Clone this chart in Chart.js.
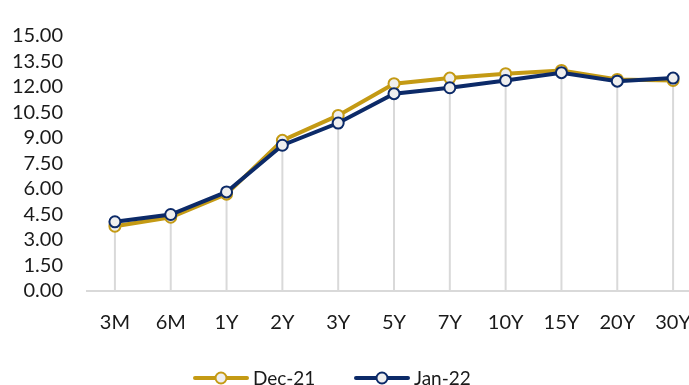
<!DOCTYPE html>
<html>
<head>
<meta charset="utf-8">
<script src="https://cdn.jsdelivr.net/npm/chart.js@4/dist/chart.umd.min.js"></script>
<style>
  html, body { margin: 0; padding: 0; background: #ffffff; overflow: hidden; }
  #wrap { width: 689px; height: 385px; overflow: hidden; position: relative; }
  canvas { display: block; }
</style>
</head>
<body>
<div id="wrap"><canvas id="yc" width="712" height="385"></canvas></div>
<script>
// Tenors along the curve
const tenors = ['3M', '6M', '1Y', '2Y', '3Y', '5Y', '7Y', '10Y', '15Y', '20Y', '30Y'];
// Yields (%) by tenor
const dec21 = [3.79, 4.32, 5.68, 8.85, 10.32, 12.19, 12.52, 12.78, 12.97, 12.44, 12.38];
const jan22 = [4.05, 4.48, 5.81, 8.56, 9.87, 11.60, 11.95, 12.38, 12.84, 12.34, 12.52];
// Value axis ticks
const yTicks = [0, 1.5, 3, 4.5, 6, 7.5, 9, 10.5, 12, 13.5, 15];

const GOLD = '#C49A14';
const NAVY = '#0C2A68';
const MARKER_FILL = '#EFEFEF';
const TEXT = '#1a1a1a';
const FONT = 'Lato, "Open Sans", sans-serif';

// Vertical drop lines from the higher point of each tenor down to the axis
const dropLines = {
  id: 'dropLines',
  beforeDatasetsDraw(chart) {
    const { ctx, scales: { x, y } } = chart;
    ctx.save();
    ctx.strokeStyle = '#D9D9D9';
    ctx.lineWidth = 2;
    tenors.forEach((t, i) => {
      const top = Math.max(dec21[i], jan22[i]);
      const px = x.getPixelForValue(i);
      ctx.beginPath();
      ctx.moveTo(px, y.getPixelForValue(top));
      ctx.lineTo(px, y.getPixelForValue(0));
      ctx.stroke();
    });
    ctx.restore();
  }
};

// Legend row under the axis: line swatch with a hollow marker, then the series name
const lineLegend = {
  id: 'lineLegend',
  afterDraw(chart, args, opts) {
    const { ctx } = chart;
    ctx.save();
    ctx.font = `${opts.fontSize}px ${FONT}`;
    ctx.textBaseline = 'middle';
    ctx.textAlign = 'left';
    const yMid = opts.y;
    chart.data.datasets.forEach((ds, i) => {
      const x0 = opts.starts[i];
      ctx.strokeStyle = ds.borderColor;
      ctx.lineWidth = 4;
      ctx.lineCap = 'round';
      ctx.beginPath();
      ctx.moveTo(x0 + 2, yMid);
      ctx.lineTo(x0 + opts.swatchWidth - 2, yMid);
      ctx.stroke();
      ctx.beginPath();
      ctx.arc(x0 + opts.swatchWidth / 2, yMid, 5.5, 0, Math.PI * 2);
      ctx.fillStyle = MARKER_FILL;
      ctx.fill();
      ctx.lineWidth = 2;
      ctx.stroke();
      ctx.fillStyle = TEXT;
      ctx.fillText(ds.label, x0 + opts.swatchWidth + 4, yMid + 1);
    });
    ctx.restore();
  }
};

const seriesStyle = (color) => ({
  borderColor: color,
  backgroundColor: color,
  borderWidth: 4,
  pointRadius: 5.5,
  pointBorderWidth: 2,
  pointBackgroundColor: MARKER_FILL,
  pointBorderColor: color,
  pointHoverRadius: 5.5,
  tension: 0
});

new Chart(document.getElementById('yc'), {
  type: 'line',
  data: {
    labels: tenors,
    datasets: [
      Object.assign({ label: 'Dec-21', data: dec21, order: 2 }, seriesStyle(GOLD)),
      Object.assign({ label: 'Jan-22', data: jan22, order: 1 }, seriesStyle(NAVY))
    ]
  },
  options: {
    responsive: false,
    animation: false,
    layout: { padding: { top: 35.5, right: 11, left: 0, bottom: 18.5 } },
    scales: {
      x: {
        offset: true,
        grid: { display: false, drawTicks: false },
        border: { display: true, color: '#D9D9D9', width: 2 },
        ticks: { color: TEXT, font: { family: FONT, size: 20 }, padding: 20, maxRotation: 0, autoSkip: false },
        afterFit(s) { s.height = 76; }
      },
      y: {
        min: 0, max: 15,
        afterBuildTicks(s) { s.ticks = yTicks.map(v => ({ value: v })); },
        grid: { display: false, drawTicks: false },
        border: { display: false },
        ticks: {
          color: TEXT, font: { family: FONT, size: 20 }, padding: 24, autoSkip: false,
          callback: v => Number(v).toFixed(2)
        },
        afterFit(s) { s.width = 87; }
      }
    },
    plugins: {
      tooltip: { enabled: false },
      legend: { display: false },
      lineLegend: { y: 378, starts: [193, 354], swatchWidth: 56, fontSize: 19 }
    }
  },
  plugins: [dropLines, lineLegend]
});
</script>
</body>
</html>
